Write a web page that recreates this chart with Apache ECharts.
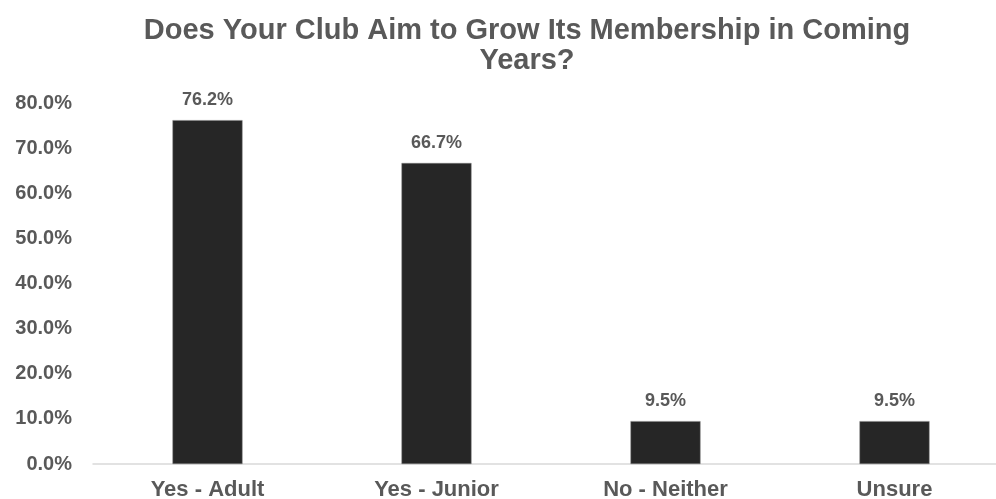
<!DOCTYPE html>
<html>
<head>
<meta charset="utf-8">
<script src="https://cdn.jsdelivr.net/npm/echarts@6/dist/echarts.min.js"></script>
<style>
  html, body { margin: 0; padding: 0; background: #fff; }
  #main { width: 996px; height: 499px; }
</style>
</head>
<body>
<div id="main"></div>
<script>
// data
var categories = ['Yes - Adult', 'Yes - Junior', 'No - Neither', 'Unsure'];
var values = [76.2, 66.7, 9.5, 9.5];

var chart = echarts.init(document.getElementById('main'));
var option = {
    animation: false,
    title: {
        text: 'Does Your Club Aim to Grow Its Membership in Coming\nYears?',
        left: 522,
        textAlign: 'center',
        top: 11,
        textStyle: {
            fontFamily: 'Liberation Sans',
            fontSize: 29,
            fontWeight: 'bold',
            color: '#595959',
            lineHeight: 30
        }
    },
    grid: {
        left: 93,
        top: 103,
        width: 916,
        bottom: 35,
        outerBoundsMode: 'none'
    },
    xAxis: {
        type: 'category',
        data: categories,
        axisTick: { show: false },
        axisLine: { lineStyle: { color: '#d9d9d9', width: 1.5 } },
        axisLabel: {
            margin: 15,
            fontFamily: 'Liberation Sans',
            fontSize: 22,
            fontWeight: 'bold',
            color: '#595959'
        }
    },
    yAxis: {
        type: 'value',
        min: 0,
        max: 80,
        interval: 10,
        splitLine: { show: false },
        axisLine: { show: false },
        axisTick: { show: false },
        axisLabel: {
            margin: 21,
            fontFamily: 'Liberation Sans',
            fontSize: 20,
            fontWeight: 'bold',
            color: '#595959',
            formatter: function (v) { return v.toFixed(1) + '%'; }
        }
    },
    series: [{
        type: 'bar',
        data: values,
        barWidth: 70,
        itemStyle: { color: '#262626', borderColor: '#7f7f7f', borderWidth: 0.5 },
        label: {
            show: true,
            position: 'top',
            distance: 11,
            fontFamily: 'Liberation Sans',
            fontSize: 18,
            fontWeight: 'bold',
            color: '#595959',
            formatter: function (p) { return p.value.toFixed(1) + '%'; }
        }
    }]
};
chart.setOption(option);
</script>
</body>
</html>
